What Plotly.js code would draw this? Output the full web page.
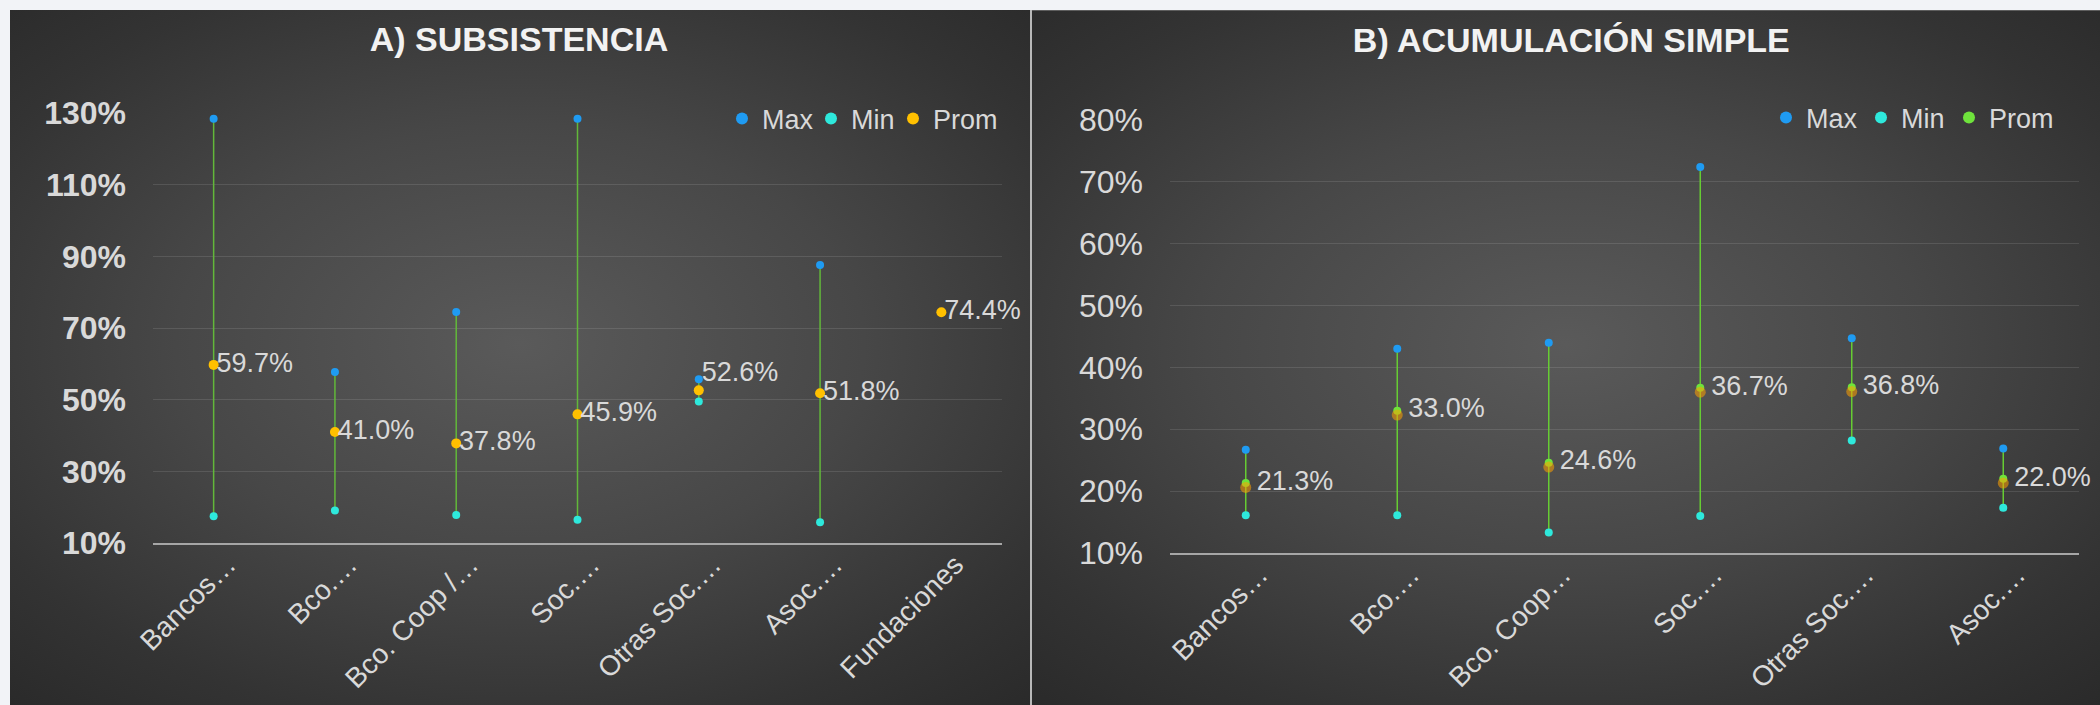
<!DOCTYPE html>
<html>
<head>
<meta charset="utf-8">
<script src="https://cdn.plot.ly/plotly-3.0.1.min.js"></script>
<style>
  html, body { margin:0; padding:0; }
  body { width:2100px; height:705px; background:#f2f3f7; position:relative; overflow:hidden; }
  .panel { position:absolute; top:10px; height:695px;
    background: radial-gradient(ellipse 75% 70% at 50% 48%, #5a5a5a 0%, #474747 45%, #333333 80%, #2a2a2a 100%); }
  #chartA { left:10px; width:1020px; }
  #chartB { left:1032px; width:1068px; border-top:1px solid #5e5e5e; box-sizing:border-box; }
  #sep { position:absolute; left:1030px; top:10px; width:2px; height:695px; background:#b8b8b8; }
</style>
</head>
<body>
<div id="chartA" class="panel"></div>
<div id="sep"></div>
<div id="chartB" class="panel"></div>
<script>
// ---------- Data ----------
const titleA = 'A) SUBSISTENCIA';
const catsA = ['Bancos…', 'Bco.…', 'Bco. Coop /…', 'Soc.…', 'Otras Soc.…', 'Asoc.…', 'Fundaciones'];
const maxA  = [1.284, 0.577, 0.745, 1.284, 0.557, 0.876, null];
const minA  = [0.175, 0.191, 0.178, 0.165, 0.495, 0.158, null];
const promA = [0.597, 0.410, 0.378, 0.459, 0.526, 0.518, 0.744];

const titleB = 'B) ACUMULACIÓN SIMPLE';
const catsB = ['Bancos…', 'Bco.…', 'Bco. Coop…', 'Soc.…', 'Otras Soc.…', 'Asoc.…'];
const maxB  = [0.267, 0.430, 0.440, 0.724, 0.447, 0.269];
const minB  = [0.161, 0.161, 0.133, 0.160, 0.282, 0.173];
const promB = [0.213, 0.330, 0.246, 0.367, 0.368, 0.220];

const seriesNames = ['Max', 'Min', 'Prom'];

// ---------- Styles ----------
const FONT = 'Liberation Sans, Arial, Helvetica, sans-serif';
const TXT = '#d9d9d9';
const C_MAX = '#1f9bf2';
const C_MIN = '#2ee9dc';
const C_PROM_A = '#ffc000';
const C_PROM_B = '#6fe33c';
const posA = ['middle right','middle right','middle right','middle right','top right','middle right','middle right'];

function hiLo(cats, mx, mn) {
  const x = [], y = [];
  cats.forEach((c, i) => {
    if (mx[i] != null && mn[i] != null) { x.push(c, c, null); y.push(mx[i], mn[i], null); }
  });
  return {x, y};
}

function build(cats, mx, mn, pr, opts) {
  const hl = hiLo(cats, mx, mn);
  const lw = opts.legendWidths;
  const traces = [
    {type:'scatter', mode:'lines', x:hl.x, y:hl.y, line:{color:opts.lineColor, width:1.5},
     showlegend:false, hoverinfo:'skip'},
  ];
  if (opts.shadow) {
    traces.push({type:'scatter', mode:'markers', x:cats, y:pr, yaxis:'y2',
      marker:{color:'#ffa000', size:11, opacity:0.55}, showlegend:false, hoverinfo:'skip'});
  }
  traces.push(
    {type:'scatter', mode:'markers', name:seriesNames[0], x:cats, y:mx, marker:{color:C_MAX, size:8}, legendwidth:lw[0]},
    {type:'scatter', mode:'markers', name:seriesNames[1], x:cats, y:mn, marker:{color:C_MIN, size:8}, legendwidth:lw[1]},
    {type:'scatter', mode:'markers', name:seriesNames[2], x:cats, y:pr, marker:{color:opts.promColor, size:opts.promSize}, legendwidth:lw[2]},
    {type:'scatter', mode:'markers+text', x:cats, y:pr, texttemplate:'%{y:.1%}',
     textposition:opts.textpos, textfont:{family:FONT, size:27, color:TXT},
     marker:{size:opts.labelGap, opacity:0}, showlegend:false, hoverinfo:'skip', cliponaxis:false}
  );
  return traces;
}

function layout(o) {
  const H = 695;
  const pw = o.W - o.l - o.r, ph = H - o.t - o.b;
  const L = {
    width:o.W, height:H,
    paper_bgcolor:'rgba(0,0,0,0)', plot_bgcolor:'rgba(0,0,0,0)',
    margin:{l:o.l, r:o.r, t:o.t, b:o.b, pad:0, autoexpand:false},
    font:{family:FONT, color:TXT},
    title:{text:'<b>' + o.title + '</b>', font:{family:FONT, size:34, color:'#f2f2f2'},
           x:o.tx, xref:'container', xanchor:'center', y:1 - o.ty / H, yref:'container', yanchor:'middle'},
    showlegend:true,
    legend:{orientation:'h', x:(o.lx - o.l) / pw, xanchor:'right',
            y:(H - o.b - o.ly) / ph, yanchor:'middle',
            font:{family:FONT, size:27, color:TXT}, bgcolor:'rgba(0,0,0,0)', itemsizing:'constant'},
    xaxis:{type:'category', range:[-0.5, o.n - 0.5], tickangle:-45, showgrid:false, zeroline:false,
           showline:true, linecolor:'#a6a6a6', linewidth:2, ticks:'',
           tickfont:{family:FONT, size:28, color:TXT}, ticklabelstandoff:-8, ticklabelshift:14},
    yaxis:{range:o.yr, tick0:0.1, dtick:o.dtick, tickformat:'.0%', showline:false, zeroline:false,
           showgrid:true, gridcolor:'rgba(255,255,255,0.11)', gridwidth:1, ticks:'',
           tickfont:{family:FONT, size:32, color:TXT, weight:o.ybold ? 700 : 400}, ticklabelstandoff:26},
  };
  if (o.shadow) {
    L.yaxis2 = {overlaying:'y', range:[o.yr[0] + 0.007, o.yr[1] + 0.007], visible:false};
  }
  return L;
}

Plotly.newPlot('chartA',
  build(catsA, maxA, minA, promA, {lineColor:'#62b83a', promColor:C_PROM_A, promSize:10, labelGap:3, textpos:posA,
        legendWidths:[44, 37, 64]}),
  layout({W:1020, l:143, r:28, t:103, b:162, title:titleA, tx:0.499, ty:29, lx:992, ly:109,
          n:catsA.length, yr:[0.1, 1.3], dtick:0.2, ybold:true}),
  {displayModeBar:false, staticPlot:true});

Plotly.newPlot('chartB',
  build(catsB, maxB, minB, promB, {lineColor:'#66cc33', promColor:C_PROM_B, promSize:8, labelGap:16, textpos:'middle right', shadow:true,
        legendWidths:[50, 43, 64]}),
  layout({W:1068, l:138, r:21, t:109, b:153, title:titleB, tx:0.505, ty:29, lx:1026, ly:107,
          n:catsB.length, yr:[0.1, 0.8], dtick:0.1, ybold:false, shadow:true}),
  {displayModeBar:false, staticPlot:true});
</script>
</body>
</html>
